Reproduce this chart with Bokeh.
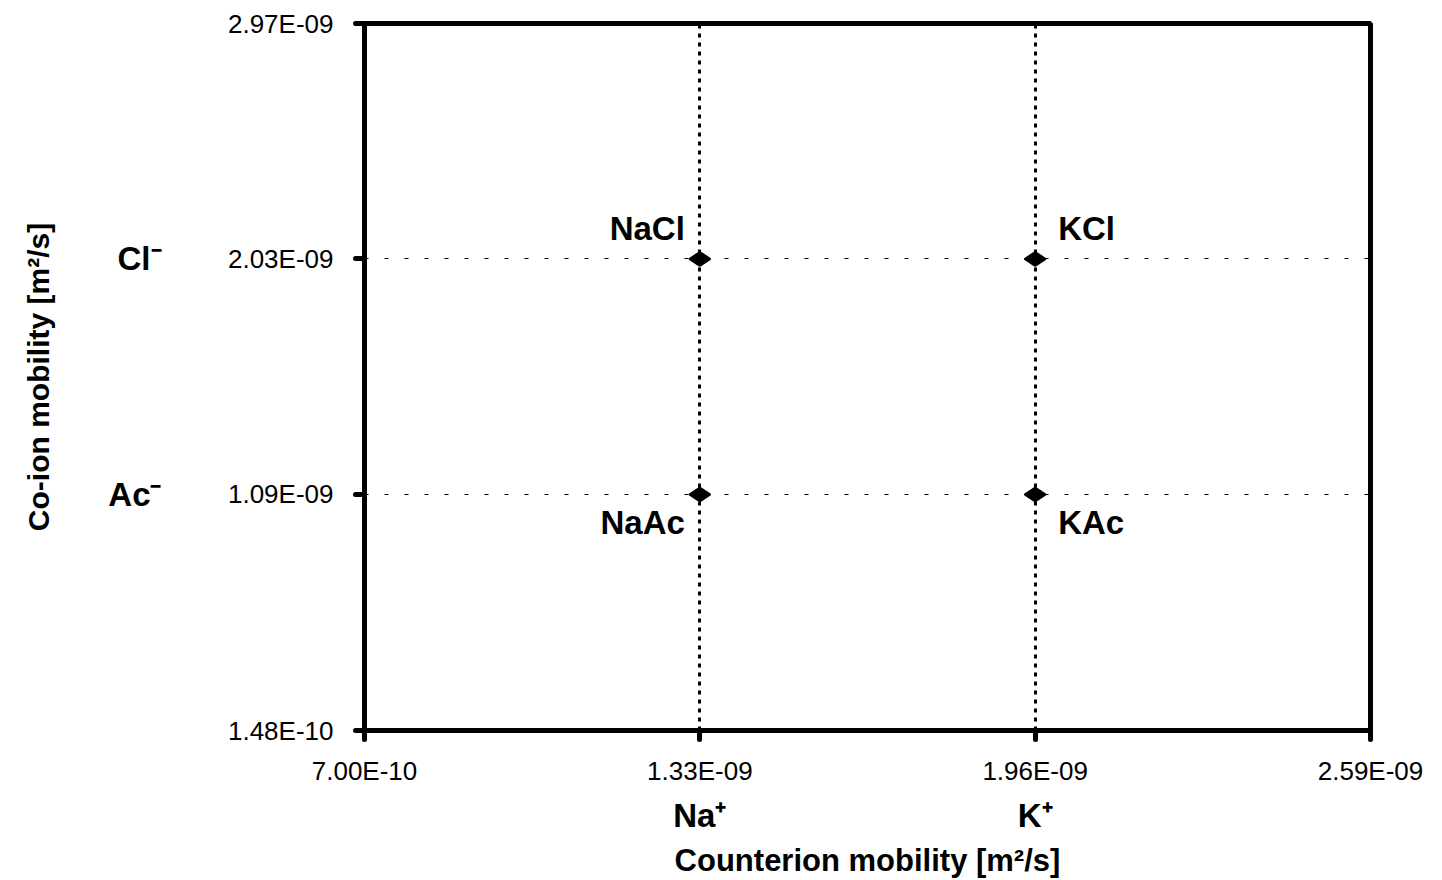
from bokeh.plotting import figure
from bokeh.models import Range1d, FixedTicker, LinearAxis, ColumnDataSource
from bokeh.embed import file_html
from bokeh.resources import INLINE
from bokeh.core.properties import value

# ---- data ----
salts = ["NaCl", "KCl", "NaAc", "KAc"]
counterion_mobility = [1.33e-9, 1.96e-9, 1.33e-9, 1.96e-9]
coion_mobility = [2.03e-9, 2.03e-9, 1.09e-9, 1.09e-9]

x_ticks = [7.00e-10, 1.33e-9, 1.96e-9, 2.59e-9]
x_tick_labels = ["7.00E-10", "1.33E-09", "1.96E-09", "2.59E-09"]
y_ticks = [1.48e-10, 1.09e-9, 2.03e-9, 2.97e-9]
y_tick_labels = ["1.48E-10", "1.09E-09", "2.03E-09", "2.97E-09"]

counterion_names = ["Na\u207a", "K\u207a"]
counterion_values = [1.33e-9, 1.96e-9]
coion_names = ["Cl\u207b", "Ac\u207b"]
coion_values = [2.03e-9, 1.09e-9]

FONT = "Liberation Sans"

p = figure(width=1442, height=880, output_backend="svg", toolbar_location=None,
           x_range=Range1d(x_ticks[0], x_ticks[-1]),
           y_range=Range1d(y_ticks[0], y_ticks[-1]),
           min_border_left=364, min_border_top=23, min_border_right=72,
           min_border_bottom=150)
p.background_fill_color = "white"
p.border_fill_color = "white"
p.outline_line_color = "black"
p.outline_line_width = 5

# inner axes with numeric tick labels
for ax, ticks, labels in ((p.xaxis[0], x_ticks, x_tick_labels),
                          (p.yaxis[0], y_ticks, y_tick_labels)):
    ax.ticker = FixedTicker(ticks=ticks)
    ax.major_label_overrides = dict(zip(ticks, labels))
    ax.axis_line_color = None
    ax.major_tick_line_color = "black"
    ax.major_tick_line_width = 5
    ax.major_tick_line_cap = "round"
    ax.major_tick_out = 9
    ax.major_tick_in = 0
    ax.minor_tick_line_color = None
    ax.major_label_text_font = FONT
    ax.major_label_text_font_size = "26px"
    ax.major_label_text_color = "black"
p.xaxis[0].major_label_standoff = 16
p.yaxis[0].major_label_standoff = 22

# outer axes with ion names and titles
xion = LinearAxis(ticker=FixedTicker(ticks=counterion_values),
                  major_label_overrides=dict(zip(counterion_values, counterion_names)),
                  axis_label="Counterion mobility [m\u00b2/s]")
yion = LinearAxis(ticker=FixedTicker(ticks=coion_values),
                  major_label_overrides=dict(zip(coion_values, coion_names)),
                  axis_label="Co-ion mobility [m\u00b2/s]")
for ax in (xion, yion):
    ax.axis_line_color = None
    ax.major_tick_line_color = None
    ax.minor_tick_line_color = None
    ax.major_tick_out = 0
    ax.major_tick_in = 0
    ax.major_label_text_font = FONT
    ax.major_label_text_font_style = "bold"
    ax.major_label_text_font_size = "33px"
    ax.major_label_text_color = "black"
    ax.axis_label_text_font = FONT
    ax.axis_label_text_font_style = "bold"
    ax.axis_label_text_color = "black"
xion.major_label_standoff = 8
xion.axis_label_standoff = 6
xion.axis_label_text_font_size = "31px"
yion.major_label_standoff = 63
yion.axis_label_standoff = 50
yion.axis_label_text_font_size = "30px"
p.add_layout(xion, "below")
p.add_layout(yion, "left")

# grid lines at the data positions
p.xgrid.ticker = FixedTicker(ticks=counterion_values)
p.xgrid.grid_line_color = "black"
p.xgrid.grid_line_width = 3
p.xgrid.grid_line_dash = "4 5"
p.ygrid.ticker = FixedTicker(ticks=coion_values)
p.ygrid.grid_line_color = "black"
p.ygrid.grid_line_width = 1
p.ygrid.grid_line_dash = "4 16"

# points
mid_x = (x_ticks[0] + x_ticks[-1]) / 2
mid_y = (y_ticks[0] + y_ticks[-1]) / 2
src = ColumnDataSource(dict(
    x=counterion_mobility, y=coion_mobility, name=salts,
    align=["right" if xv < mid_x else "left" for xv in counterion_mobility],
    dx=[-15 if xv < mid_x else 23 for xv in counterion_mobility],
    dy=[-30 if yv > mid_y else 28 for yv in coion_mobility],
))
p.scatter("x", "y", source=src, marker="diamond", size=21, angle=1.5708,
          fill_color="black", line_color="black", line_width=2)
p.text("x", "y", text="name", source=src, x_offset="dx", y_offset="dy",
       text_align="align", text_baseline="alphabetic",
       text_font=value(FONT), text_font_style="bold", text_font_size="33px",
       text_color="black")

open("out.html", "w").write(file_html(p, INLINE))
